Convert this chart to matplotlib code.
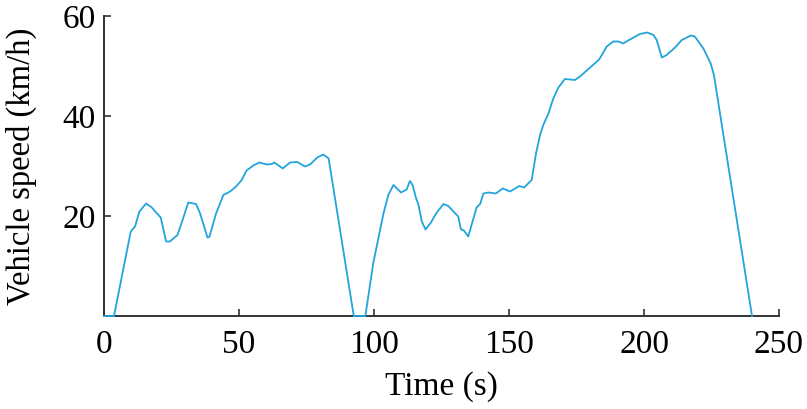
import matplotlib
matplotlib.use('Agg')
import matplotlib.pyplot as plt

# speed profile (s, km/h)
time_s = [0, 3.7, 9.9, 11.5, 13.1, 15.6, 17.7, 19.3, 21.0, 23.0, 24.4, 27.2, 29.1,
          31.2, 34.1, 35.6, 38.3, 39.0, 41.5, 44.2, 46.7, 48.9, 51.0, 52.8, 55.3,
          57.5, 60.3, 62.1, 63.1, 66.2, 68.9, 71.6, 74.4, 76.3, 79.0, 81.2, 83.2,
          92.5, 96.8, 99.7, 103.5, 105.3, 107.2, 110.0, 112.1, 113.3, 114.3, 115.6,
          116.4, 117.7, 119.1, 121.1, 123.0, 125.7, 127.5, 131.2, 132.2, 133.3,
          134.9, 138.0, 139.3, 140.5, 142.4, 145.1, 147.7, 150.4, 153.8, 155.6,
          158.4, 160.0, 161.5, 162.7, 164.6, 166.4, 168.3, 170.7, 174.4, 176.3,
          178.8, 183.4, 186.2, 188.6, 190.5, 192.3, 194.8, 198.5, 201.2, 203.5,
          204.7, 206.6, 208.4, 211.5, 214.0, 217.4, 218.8, 222.0, 224.7, 225.9,
          240.0]
speed_kmh = [0, 0, 16.9, 17.9, 20.9, 22.5, 21.7, 20.7, 19.7, 14.9, 14.9, 16.2, 19.2,
             22.7, 22.4, 20.5, 15.7, 15.8, 20.5, 24.2, 24.9, 25.9, 27.2, 29.1, 30.1,
             30.7, 30.3, 30.4, 30.7, 29.5, 30.7, 30.8, 29.9, 30.3, 31.7, 32.3, 31.5,
             0, 0, 10.5, 20.5, 24.2, 26.2, 24.7, 25.3, 27.0, 26.2, 23.5,
             22.4, 18.9, 17.3, 18.7, 20.5, 22.4, 22.0, 19.9, 17.3, 17.1,
             15.9, 21.7, 22.4, 24.5, 24.7, 24.5, 25.5, 24.9, 26.0, 25.7,
             27.2, 32.5, 36.2, 38.2, 40.5, 43.5, 45.7, 47.4, 47.2, 47.9,
             49.1, 51.3, 53.9, 54.9, 54.9, 54.5, 55.3, 56.4, 56.7, 56.2,
             55.2, 51.7, 52.2, 53.7, 55.2, 56.1, 55.9, 53.5, 50.5, 48.2,
             0]

x_ticks = [0, 50, 100, 150, 200, 250]
y_ticks = [20, 40, 60]

plt.rcParams['font.family'] = ['Liberation Serif', 'DejaVu Serif']

fig = plt.figure(figsize=(8.07, 4.09), dpi=100)
ax = fig.add_axes([0.1289, 0.2274, 0.8364, 0.7335])

ax.plot(time_s, speed_kmh, color='#22a4dc', lw=1.3, clip_on=False, zorder=3)

ax.set_xlim(0, 250)
ax.set_ylim(0, 60)
ax.set_xticks(x_ticks)
ax.set_yticks(y_ticks)
ax.tick_params(direction='in', length=5, width=1.2, labelsize=24, color='#333333')
ax.tick_params(axis='x', pad=10)
ax.tick_params(axis='y', pad=6)

for side in ['top', 'right']:
    ax.spines[side].set_visible(False)
for side in ['left', 'bottom']:
    ax.spines[side].set_linewidth(1.4)
    ax.spines[side].set_color('#333333')

ax.set_xlabel('Time (s)', fontsize=24, labelpad=8)
ax.set_ylabel('Vehicle speed (km/h)', fontsize=23.5, labelpad=18)

fig.savefig('out.png', dpi=100)
